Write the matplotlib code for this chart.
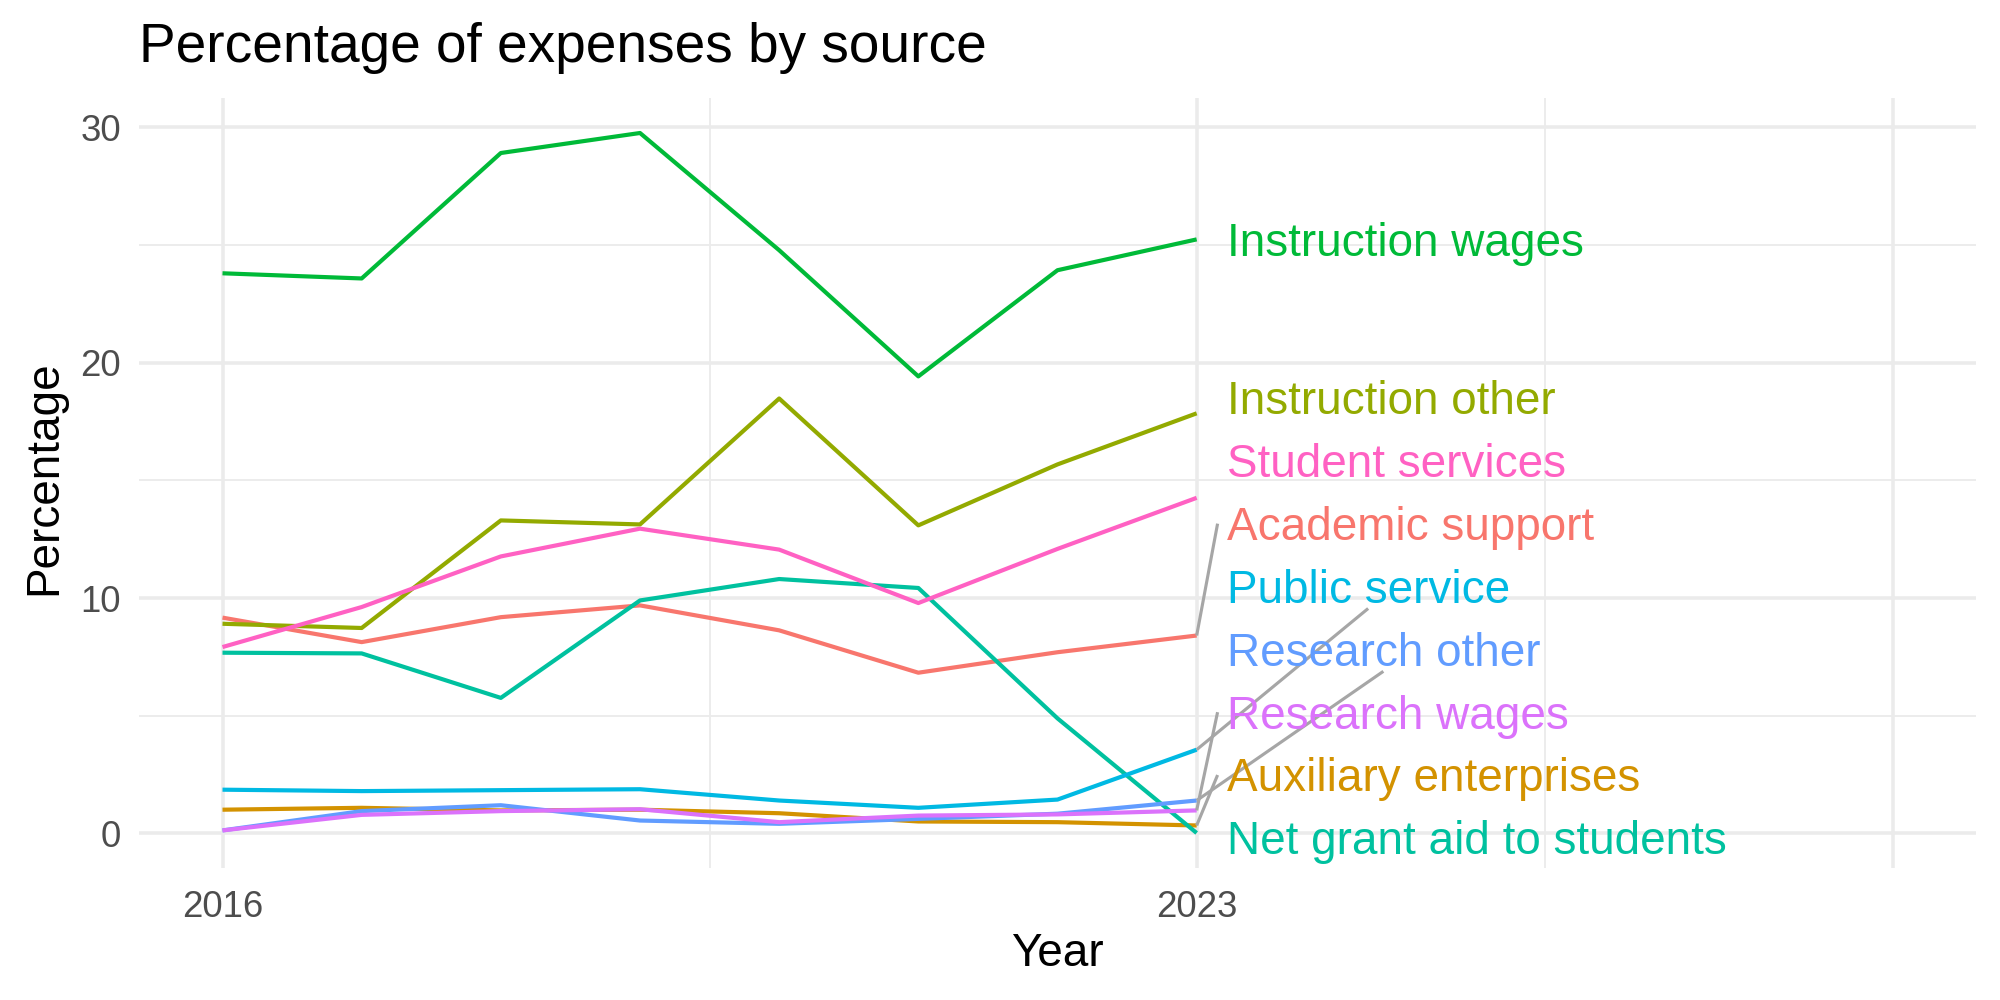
import numpy as np
import matplotlib
matplotlib.use("Agg")
import matplotlib.pyplot as plt
import matplotlib.transforms as mtransforms

plt.rcParams["font.family"] = ["Liberation Sans", "DejaVu Sans"]

# data
years = [2016, 2017, 2018, 2019, 2020, 2021, 2022, 2023]

categories = ["Academic support", "Auxiliary enterprises", "Instruction other",
              "Instruction wages", "Net grant aid to students", "Public service",
              "Research other", "Research wages", "Student services"]

academic_support = [9.17, 8.13, 9.19, 9.69, 8.63, 6.83, 7.70, 8.41]
auxiliary_enterprises = [1.01, 1.09, 0.98, 1.01, 0.86, 0.51, 0.48, 0.34]
instruction_other = [8.91, 8.73, 13.30, 13.13, 18.48, 13.09, 15.68, 17.85]
instruction_wages = [23.80, 23.58, 28.91, 29.76, 24.78, 19.42, 23.93, 25.24]
net_grant_aid = [7.68, 7.65, 5.76, 9.90, 10.81, 10.43, 4.89, 0.02]
public_service = [1.86, 1.80, 1.84, 1.88, 1.40, 1.09, 1.44, 3.56]
research_other = [0.13, 0.95, 1.20, 0.55, 0.41, 0.62, 0.84, 1.40]
research_wages = [0.13, 0.79, 0.95, 1.03, 0.48, 0.76, 0.81, 0.98]
student_services = [7.92, 9.62, 11.77, 12.95, 12.06, 9.79, 12.09, 14.26]

series = [academic_support, auxiliary_enterprises, instruction_other,
          instruction_wages, net_grant_aid, public_service,
          research_other, research_wages, student_services]

# ggplot2 default hue palette for 9 groups
colors = ["#F8766D", "#D39200", "#93AA00", "#00BA38", "#00C19F",
          "#00B9E3", "#619CFF", "#DB72FB", "#FF61C3"]

x_limits = (2016, 2028)


def spread_labels(values, gap, lo, hi):
    # push overlapping labels apart in clusters, kept inside [lo, hi]
    order = list(np.argsort(values))
    clusters = [[i] for i in order]

    def start_of(cl):
        n = len(cl)
        s = np.mean([values[i] for i in cl]) - gap * (n - 1) / 2
        s = max(s, lo)
        s = min(s, hi - gap * (n - 1))
        return s

    merged = True
    while merged:
        merged = False
        starts = [start_of(c) for c in clusters]
        for k in range(len(clusters) - 1):
            top_k = starts[k] + gap * (len(clusters[k]) - 1)
            if starts[k + 1] - top_k < gap:
                clusters[k] = clusters[k] + clusters[k + 1]
                del clusters[k + 1]
                merged = True
                break
    pos = [0.0] * len(values)
    for c in clusters:
        s = start_of(c)
        for j, i in enumerate(c):
            pos[i] = s + gap * j
    return pos


W, H = 2000, 1000
fig = plt.figure(figsize=(W / 300, H / 300), dpi=300)
ax = fig.add_axes([139 / W, 1 - 868 / H, (1976 - 139) / W, (868 - 98) / H])

for name, vals, col in zip(categories, series, colors):
    ax.plot(years, vals, color=col, lw=1.0, solid_capstyle="butt", zorder=3)

# ggplot style expansion of the scales (5 %)
all_vals = np.concatenate([np.array(s) for s in series])
ymin, ymax = all_vals.min(), all_vals.max()
dy = 0.05 * (ymax - ymin)
ax.set_ylim(ymin - dy, ymax + dy)
dx = 0.05 * (x_limits[1] - x_limits[0])
ax.set_xlim(x_limits[0] - dx, x_limits[1] + dx)

ax.set_xticks([2016, 2023, 2028])
ax.set_xticklabels(["2016", "2023", ""])
ax.set_xticks([2019.5, 2025.5], minor=True)
ax.set_yticks([0, 10, 20, 30])
ax.set_yticks([5, 15, 25], minor=True)
ax.tick_params(which="both", length=0, labelsize=8.8, labelcolor="#4D4D4D")
ax.tick_params(axis="x", pad=5.3)
ax.tick_params(axis="y", pad=4.3)
ax.grid(which="major", color="#EBEBEB", lw=0.85)
ax.grid(which="minor", color="#EBEBEB", lw=0.45)
ax.set_axisbelow(True)
for sp in ax.spines.values():
    sp.set_visible(False)

fig.text(139 / W, 1 - 62 / H, "Percentage of expenses by source", fontsize=13.2,
         ha="left", va="baseline")
fig.text((139 + 1976) / 2 / W, 1 - 966 / H, "Year", fontsize=11,
         ha="center", va="baseline")
fig.text(56 / W, 1 - 478 / H, "Percentage", fontsize=11, rotation=90,
         ha="center", va="baseline", rotation_mode="anchor")

# repelled end labels
label_size = 11
ends = [s[-1] for s in series]
y0, y1 = ax.get_ylim()
label_y = spread_labels(ends, 2.67, y0 + 1.28, y1 - 1.28)
label_x = years[-1] + 0.215
shift = mtransforms.offset_copy(ax.transData, fig=fig, y=-0.358 * label_size, units="points")
texts = []
for name, col, ly in zip(categories, colors, label_y):
    t = ax.text(label_x, ly, name, color=col, fontsize=label_size, ha="left",
                va="baseline", transform=shift, clip_on=False, zorder=5)
    texts.append(t)

fig.canvas.draw()
renderer = fig.canvas.get_renderer()
ax_bb = ax.get_window_extent(renderer)
inv = ax.transData.inverted()
for t, end, ly in zip(texts, ends, label_y):
    bb = t.get_window_extent(renderer)
    px, py = ax.transData.transform((years[-1], end))
    _, cy = ax.transData.transform((label_x, ly))
    bx0, bx1 = bb.x0 - 9, bb.x1 + 9
    by0, by1 = cy - 22, cy + 22
    cands = [(bx0, cy), (bx1, cy), ((bx0 + bx1) / 2, by0), ((bx0 + bx1) / 2, by1)]
    dists = [np.hypot((cx_ - px) / ax_bb.width, (cy_ - py) / ax_bb.height) for cx_, cy_ in cands]
    ex, ey = cands[int(np.argmin(dists))]
    if np.hypot(ex - px, ey - py) > 48:
        (dx0, dy0), (dx1, dy1) = inv.transform([(px, py), (ex, ey)])
        ax.plot([dx0, dx1], [dy0, dy1], color="#A6A6A6", lw=0.75, zorder=4,
                clip_on=False, solid_capstyle="butt")

fig.savefig("out.png", dpi=300)
